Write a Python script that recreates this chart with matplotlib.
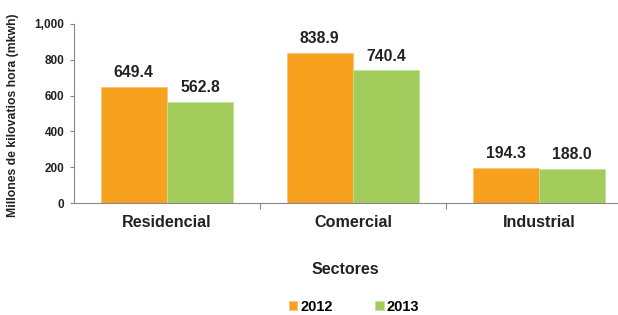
import matplotlib
matplotlib.use("Agg")
import matplotlib.pyplot as plt
import numpy as np

categories = ["Residencial", "Comercial", "Industrial"]
series_names = ["2012", "2013"]
values_2012 = [649.4, 838.9, 194.3]
values_2013 = [562.8, 740.4, 188.0]
yticks = [0, 200, 400, 600, 800, 1000]
ytick_labels = ["0", "200", "400", "600", "800", "1,000"]

colors = ["#F7A11E", "#A2CD5C"]
plt.rcParams['font.family'] = ['Liberation Sans', 'DejaVu Sans']

fig = plt.figure(figsize=(6.18, 3.15), dpi=100)
ax = fig.add_axes([74/618, (315-203)/315, (632-74)/618, (203-24)/315])

x = np.arange(len(categories))
w = 0.357
b1 = ax.bar(x - w/2, values_2012, w, color=colors[0], edgecolor="#FBC27A", linewidth=0.6, label=series_names[0])
b2 = ax.bar(x + w/2, values_2013, w, color=colors[1], edgecolor="#C3E09A", linewidth=0.6, label=series_names[1])

for bars, vals in ((b1, values_2012), (b2, values_2013)):
    for r, v in zip(bars, vals):
        ax.annotate(f"{v:.1f}", (r.get_x() + r.get_width()/2, v), xytext=(0, 5),
                    textcoords="offset points", ha="center", va="bottom",
                    fontsize=11.3, fontweight="bold", color="#222222")

ax.set_xlim(-0.5, 2.5)
ax.set_ylim(0, 1000)
ax.set_yticks(yticks)
ax.set_yticklabels(ytick_labels, fontsize=8.5, fontweight="bold", color="#222222")
ax.set_xticks(x)
ax.set_xticklabels(categories, fontsize=11.6, fontweight="bold", color="#222222")
ax.tick_params(axis="x", length=0, pad=8.5)
ax.set_xticks([0.5, 1.5], minor=True)
ax.tick_params(axis="x", which="minor", length=4, color="#888888", width=0.8)
ax.tick_params(axis="y", length=3, color="#888888", width=0.8, pad=4)

for s in ["top", "right"]:
    ax.spines[s].set_visible(False)
for s in ["left", "bottom"]:
    ax.spines[s].set_color("#888888")
    ax.spines[s].set_linewidth(0.8)

ax.set_ylabel("Millones de kilovatios hora (mkwh)", fontsize=8.8, fontweight="bold", color="#222222")
ax.yaxis.set_label_coords(-0.098, 0.49)

fig.text(345/618, 1 - 270/315, "Sectores", ha="center", va="center", fontsize=11.5, fontweight="bold", color="#222222")

leg = fig.legend(handles=[b1, b2], labels=series_names, loc="center", bbox_to_anchor=(354/618, 1 - 307/315),
                 ncol=2, frameon=False, prop={"weight": "bold", "size": 10.5},
                 handlelength=0.6, handleheight=0.6, handletextpad=0.2, columnspacing=2.9)

fig.savefig("out.png", dpi=100)
